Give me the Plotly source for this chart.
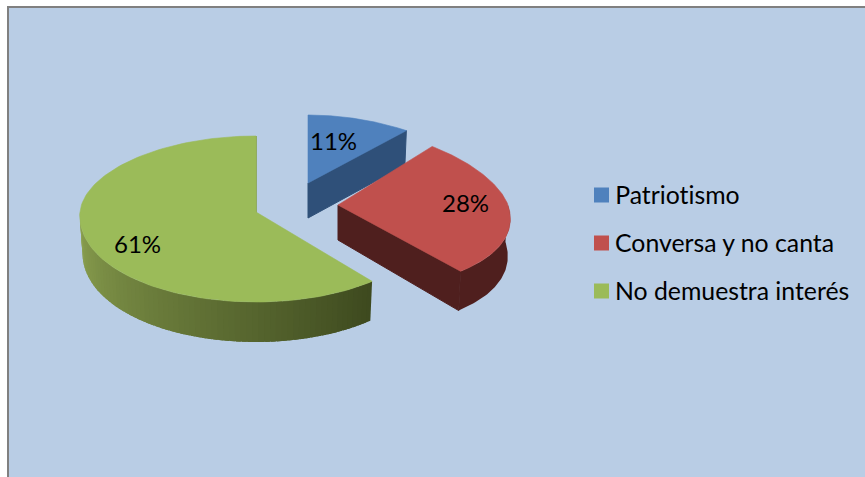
import numpy as np
import plotly.graph_objects as go

categories = ['Patriotismo', 'Conversa y no canta', 'No demuestra interés']
shares = [11, 28, 61]

colors = ['#4f81bd', '#c0504d', '#9bbb59']
face_colors = ['#2f5079', '#4f1f1e', '#7f9a45']
wall_left = ['#2f5079', '#4f1f1e', '#8ea452']
wall_right = ['#2f5079', '#4f1f1e', '#3e4a1f']

# projected pie geometry in page pixels, one entry per slice (exploded centres)
centre_x = [308, 338, 256]
centre_y = [183, 205, 212]
radius_x = [176, 170, 176]
radius_back = [68, 76, 76]
radius_front = [90, 86, 90]
persp = [0.16, 0.17, 0.045]
label_font = 'Lato'


def rgb(h):
    return np.array([int(h[i:i + 2], 16) for i in (1, 3, 5)], dtype=float)


def top_xy(i, deg):
    a = np.radians(deg)
    s, c = np.sin(a), np.cos(a)
    rx = radius_x[i] * (1 - persp[i] * c)
    ry = np.where(c > 0, radius_back[i], radius_front[i])
    return centre_x[i] + rx * s, centre_y[i] - ry * c


def bottom_xy(i, deg):
    x, y = top_xy(i, deg)
    c = np.cos(np.radians(deg))
    return centre_x[i] + (x - centre_x[i]) * 0.985, y + 37 - 3 * c


def poly(x, y, color, width=1):
    return go.Scatter(x=x, y=y, mode='lines', fill='toself', fillcolor=color,
                      line=dict(color=color, width=width), hoverinfo='skip', showlegend=False)


fig = go.Figure()
edges = np.concatenate([[0], np.cumsum(shares)]) * 3.6

for i in range(3):
    start, end = edges[i], edges[i + 1]
    # outer wall, only the part facing the viewer
    a0, a1 = max(start, 90), min(end, 270)
    if a1 > a0:
        n = 70 if wall_left[i] != wall_right[i] else 1
        steps = np.linspace(a0, a1, n + 1)
        for k in range(n):
            # strip runs on past its end so the next one covers the seam
            seg = np.linspace(steps[k], min(steps[k + 1] + 1.5, a1), 5) if n > 1 else np.linspace(a0, a1, 60)
            tx, ty = top_xy(i, seg)
            bx, by = bottom_xy(i, seg)
            t = (steps[k] - a0) / (a1 - a0)
            col = rgb(wall_right[i]) * (1 - t) + rgb(wall_left[i]) * t
            fig.add_trace(poly(list(tx) + list(bx[::-1]), list(ty) + list(by[::-1]),
                               'rgb(%d,%d,%d)' % tuple(col), 0))
    # flat cut face at the end of the slice
    ex, ey = top_xy(i, end)
    bx, by = bottom_xy(i, end)
    cx, cy = centre_x[i], centre_y[i]
    fig.add_trace(poly([cx, float(ex), float(bx), cx, cx], [cy, float(ey), float(by), cy + 35, cy],
                       face_colors[i]))
    # top surface
    arc = np.linspace(start, end, 120)
    ax, ay = top_xy(i, arc)
    fig.add_trace(poly([cx] + list(ax) + [cx], [cy] + list(ay) + [cy], colors[i], 0.6))

# value labels
label_x = [333, 465, 137]
label_y = [140, 202, 243]
for i in range(3):
    fig.add_annotation(x=label_x[i], y=label_y[i], text='%d%%' % shares[i], showarrow=False,
                       font=dict(family=label_font, size=24, color='#000000'))

# legend, drawn by hand so swatch and text sit as close as in the original
legend_y = [195, 243, 291]
fig.add_trace(go.Scatter(x=[601.5] * 3, y=legend_y, mode='markers', hoverinfo='skip', showlegend=False,
                         marker=dict(symbol='square', size=15, color=colors, line=dict(width=0))))
for i in range(3):
    fig.add_annotation(x=616, y=legend_y[i], text=categories[i], showarrow=False, xanchor='left',
                       xshift=-3, yshift=1, font=dict(family=label_font, size=24.8, color='#000000'))

fig.add_shape(type='rect', x0=8, y0=7, x1=880, y1=490, layer='below',
              fillcolor='#b9cde5', line=dict(color='#808080', width=2))

fig.update_layout(
    width=865, height=477, autosize=False,
    margin=dict(l=0, r=0, t=0, b=0),
    paper_bgcolor='#ffffff', plot_bgcolor='#ffffff',
    hovermode=False, showlegend=False,
    xaxis=dict(range=[0, 865], visible=False, fixedrange=True),
    yaxis=dict(range=[477, 0], visible=False, fixedrange=True),
)

# page margin off, and no ti ligature in Lato
post = """
document.body.style.margin = '0';
var s = document.createElement('style');
s.textContent = 'text{font-variant-ligatures:none !important}';
document.head.appendChild(s);
"""
fig.write_html("out.html", config=dict(displayModeBar=False), post_script=post)
